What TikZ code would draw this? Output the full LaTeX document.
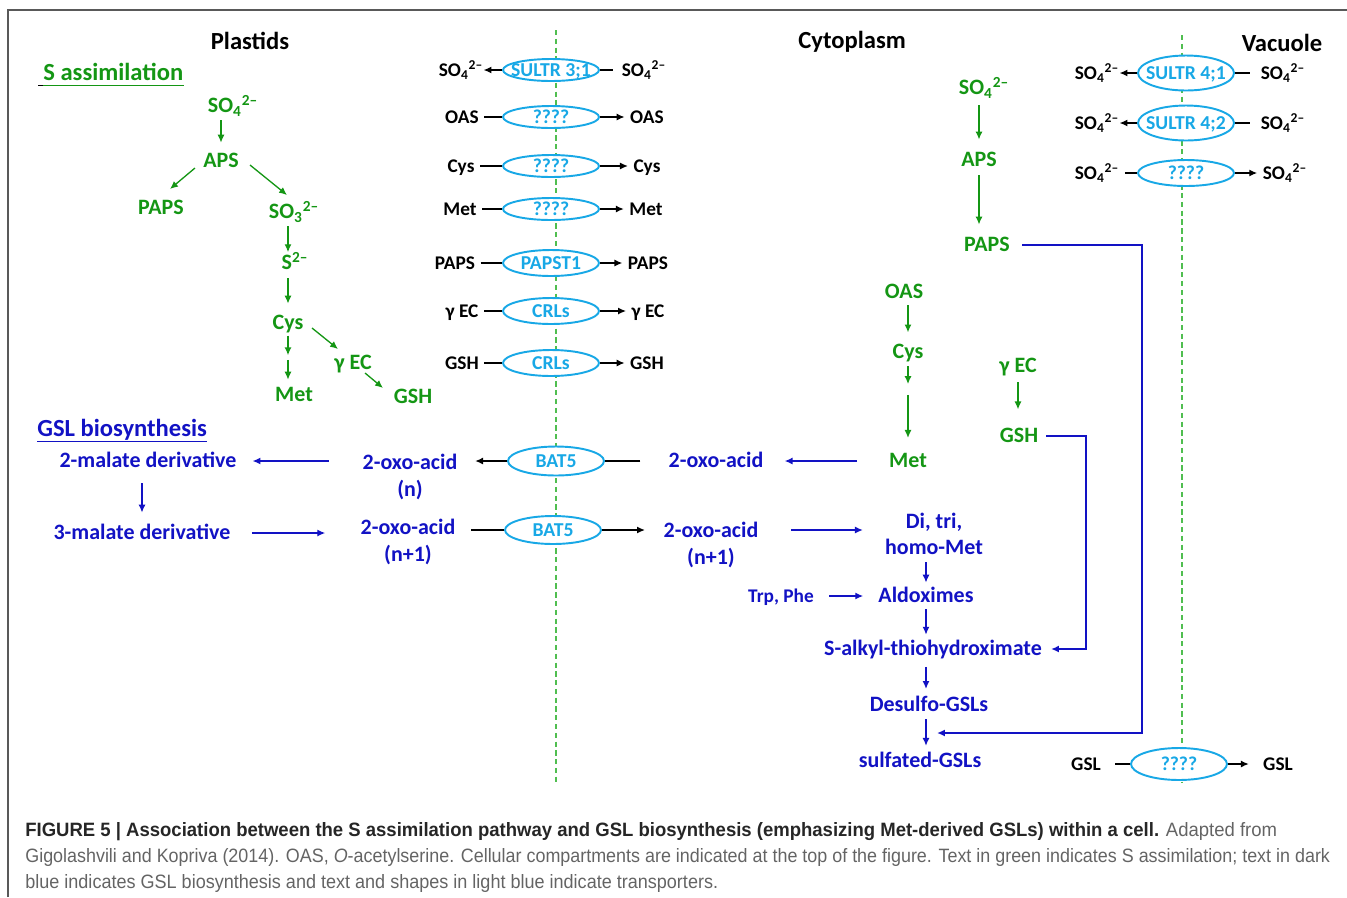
\documentclass[tikz,border=0pt]{standalone}
\usepackage{fontspec}
\setmainfont{Carlito}
\newfontfamily\capfont{Liberation Sans}
\usetikzlibrary{arrows.meta,shapes.geometric}
\definecolor{sgreen}{RGB}{20,150,20}
\definecolor{gslblue}{RGB}{18,18,196}
\definecolor{tblue}{RGB}{24,168,230}
\definecolor{dashgreen}{RGB}{80,190,80}
\definecolor{capgray}{RGB}{100,100,100}
\newcommand{\sulf}{SO\textsubscript{4}\textsuperscript{2–}}
\newcommand{\tname}[1]{\makebox[0pt]{#1}}

\begin{document}
\begin{tikzpicture}[x=0.02cm,y=-0.02cm,
  lbl/.style={inner sep=2pt,font=\bfseries\fontsize{12.5}{15}\selectfont,text height=7.9pt,text depth=0pt},
  g/.style={lbl,text=sgreen},
  b/.style={lbl,text=gslblue},
  two/.style={text height=,text depth=,align=center},
  blk/.style={inner sep=3pt,font=\bfseries\fontsize{11}{13}\selectfont,text height=7pt,text depth=0pt},
  hdr/.style={inner sep=0pt,font=\bfseries\fontsize{14}{16}\selectfont,text height=8.9pt,text depth=0pt},
  trans/.style={ellipse,draw=tblue,fill=white,line width=1.1pt,text=tblue,inner sep=0pt,
    font=\bfseries\fontsize{11.2}{13}\selectfont,text height=7pt,text depth=0pt,
    minimum width=1.92cm,minimum height=0.44cm},
  tip/.style={-{Latex[length=4.5pt,width=4pt]}},
  garr/.style={tip,sgreen,line width=0.75pt,shorten <=2pt,shorten >=3pt},
  barr/.style={tip,gslblue,line width=0.75pt,shorten <=2pt,shorten >=3pt},
  karr/.style={tip,black,line width=0.75pt},
  kline/.style={black,line width=0.75pt},
  divider/.style={dashgreen,line width=0.6pt,dash pattern=on 3pt off 2pt},
  uline/.style={line width=0.8pt},
  capl/.style={inner sep=0pt,font=\capfont\fontsize{11}{13}\selectfont,text=black!85}]
\useasboundingbox (0,0) rectangle (1347,897);

\draw[black!65,line width=0.8pt] (8,897) -- (8,10) -- (1347,10);
\draw[divider] (556,30) -- (556,782);
\draw[divider] (1182,35) -- (1182,782);

\node[hdr] (plastids) at (250,42) {Plastids};
\node[hdr] (cytoplasm) at (852,41) {Cytoplasm};
\node[hdr] (vacuole) at (1282,44) {Vacuole};

\node[hdr,text=sgreen,anchor=west] (sassim) at (43,73) {S assimilation};
\draw[uline,sgreen] ([yshift=-2.3pt]sassim.south west) -- ([yshift=-2.3pt]sassim.south east);
\draw[uline,black] ([xshift=-2.8pt,yshift=-2.3pt]sassim.south west) -- ([yshift=-2.3pt]sassim.south west);
\node[hdr,text=gslblue,anchor=west] (gslbio) at (37,429) {GSL biosynthesis};
\draw[uline,gslblue] ([yshift=-2.3pt]gslbio.south west) -- ([yshift=-2.3pt]gslbio.south east);

% plastid S assimilation
\node[g] (so4a) at (233,106) {\sulf};
\node[g] (apsa) at (221,161) {APS};
\node[g] (papsa) at (161,208) {PAPS};
\node[g] (so3a) at (294,212) {SO\textsubscript{3}\textsuperscript{2–}};
\node[g] (s2a) at (295,263) {S\textsuperscript{2–}};
\node[g] (cysa) at (288,323) {Cys};
\node[g] (meta) at (294,395) {Met};
\node[g] (geca) at (353,363) {γ EC};
\node[g] (gsha) at (413,397) {GSH};
\coordinate (cysmeta) at (288,357);
\draw[garr,shorten >=4.3pt] (so4a.south -| apsa) -- (apsa.north);
\draw[garr,shorten <=0pt,shorten >=0pt] ([shift={(-26,7)}]apsa.center) -- ([shift={(9,-19)}]papsa.center);
\draw[garr,shorten <=0pt,shorten >=0pt] ([shift={(29,4)}]apsa.center) -- ([shift={(-7,-17)}]so3a.center);
\draw[garr,shorten >=0pt] (so3a.south -| cysa) -- (s2a.north -| cysa);
\draw[garr,shorten <=2.6pt,shorten >=4.9pt] (s2a.south -| cysa) -- (cysa.north);
\draw[garr,shorten <=1pt,shorten >=1pt] (cysa.south) -- (cysmeta);
\draw[garr,shorten <=1.7pt,shorten >=2.6pt] (cysmeta) -- (meta.north -| cysmeta);
\draw[garr,shorten <=0pt,shorten >=0pt] ([shift={(24,5)}]cysa.center) -- ([shift={(-15,-14)}]geca.center);
\draw[garr,shorten <=0pt,shorten >=0pt] ([shift={(12,10)}]geca.center) -- ([shift={(-30,-9)}]gsha.center);

% plastid envelope transporters
\node[trans] (t1) at (551,70) {\tname{SULTR 3;1}};
\node[trans] (t2) at (551,117) {\tname{????}};
\node[trans] (t3) at (551,166) {\tname{????}};
\node[trans] (t4) at (551,209) {\tname{????}};
\node[trans,minimum height=0.52cm] (t5) at (551,263) {\tname{PAPST1}};
\node[trans,minimum height=0.52cm] (t6) at (551,311) {\tname{CRLs}};
\node[trans,minimum height=0.52cm] (t7) at (551,363) {\tname{CRLs}};
\node[blk] (so4l) at (461,70) {\sulf};
\node[blk] (so4r) at (644,70) {\sulf};
\node[blk] (oasl) at (462,117) {OAS};
\node[blk] (oasr) at (647,117) {OAS};
\node[blk] (cysl) at (461,166) {Cys};
\node[blk] (cysr) at (647,166) {Cys};
\node[blk] (metl) at (460,209) {Met};
\node[blk] (metr) at (646,209) {Met};
\node[blk] (papsl) at (455,263) {PAPS};
\node[blk] (papsr) at (648,263) {PAPS};
\node[blk] (gecl) at (462,311) {γ EC};
\node[blk] (gecr) at (648,311) {γ EC};
\node[blk] (gshl) at (462,363) {GSH};
\node[blk] (gshr) at (647,363) {GSH};
\draw[karr,shorten >=-3pt] (t1) -- (so4l);
\draw[kline,shorten <=2pt] (so4r) -- (t1);
\draw[kline] (oasl) -- (t2);
\draw[karr] (t2) -- (oasr);
\draw[kline] (cysl) -- (t3);
\draw[karr] (t3) -- (cysr);
\draw[kline] (metl) -- (t4);
\draw[karr] (t4) -- (metr);
\draw[kline] (papsl) -- (t5);
\draw[karr] (t5) -- (papsr);
\draw[kline] (gecl) -- (t6);
\draw[karr] (t6) -- (gecr);
\draw[kline] (gshl) -- (t7);
\draw[karr] (t7) -- (gshr);

% GSL chain elongation
\node[b] (malate2) at (148,461) {2-malate derivative};
\node[b] (malate3) at (142,533) {3-malate derivative};
\node[b,two] (oxol) at (410,477) {2-oxo-acid\\(n)};
\node[b,two] (oxol2) at (408,542) {2-oxo-acid\\(n+1)};
\node[trans,minimum height=0.58cm] (bat1) at (556,461) {\tname{BAT5}};
\node[trans,minimum height=0.56cm] (bat2) at (553,530) {\tname{BAT5}};
\node[b] (oxor) at (716,461) {2-oxo-acid};
\node[b,two] (oxor2) at (711,545) {2-oxo-acid\\(n+1)};
\draw[barr,shorten <=17pt,shorten >=7pt] (malate2 -| oxol.west) -- (malate2.east);
\draw[barr,shorten <=6.6pt,shorten >=5.5pt] (malate2.south -| malate3) -- (malate3.north);
\draw[barr,shorten <=10pt,shorten >=18pt] (malate3.east) -- (malate3.east -| oxol2.west);
\draw[karr,shorten >=8pt] (bat1) -- (oxol.east |- bat1);
\draw[kline,shorten <=14pt] (oxor) -- (bat1);
\draw[kline,shorten <=7pt] (oxol2.east |- bat2) -- (bat2);
\draw[karr,shorten >=8.5pt] (bat2) -- (oxor2.west |- bat2);

% cytoplasm
\node[g] (so4c) at (984,88) {\sulf};
\node[g] (apsc) at (979,160) {APS};
\node[g] (papsc) at (987,245) {PAPS};
\node[g] (oasc) at (904,292) {OAS};
\node[g] (cysc) at (908,352) {Cys};
\node[g] (metc) at (908,461) {Met};
\node[g] (gecc) at (1018,366) {γ EC};
\node[g] (gshc) at (1019,436) {GSH};
\coordinate (cysmetc) at (908,390);
\draw[garr,shorten <=3.7pt,shorten >=5.5pt] (so4c.south -| apsc) -- (apsc.north);
\draw[garr,shorten <=2.6pt,shorten >=5.5pt] (apsc.south) -- (papsc.north -| apsc);
\draw[garr,shorten <=1.5pt,shorten >=5pt] (oasc.south -| cysc) -- (cysc.north);
\draw[garr,shorten <=2pt,shorten >=3.4pt] (cysc.south) -- (cysmetc);
\draw[garr,shorten <=2.8pt,shorten >=7pt] (cysmetc) -- (metc.north);
\draw[garr,shorten <=3.2pt,shorten >=9pt] (gecc.south) -- (gecc.south |- gshc.north);

\node[b,two] (dimet) at (934,534) {Di, tri,\\homo-Met};
\node[b,font=\bfseries\fontsize{11}{13}\selectfont,text height=7pt] (trp) at (781,596) {Trp, Phe};
\node[b] (aldox) at (926,596) {Aldoximes};
\node[b] (salkyl) at (933,649) {S-alkyl-thiohydroximate};
\node[b] (desulfo) at (929,705) {Desulfo-GSLs};
\node[b] (sulfated) at (920,761) {sulfated-GSLs};
\coordinate (papsbend) at (1142,733);
\coordinate (papsin) at (937,733);
\coordinate (gshbend) at (1086,649);
\draw[barr,shorten <=16pt,shorten >=10pt] (metc) -- (oxor);
\draw[barr,shorten <=16.5pt,shorten >=10.5pt] (oxor2.east |- bat2) -- (dimet.west |- bat2);
\draw[barr,shorten >=1.5pt] (dimet.south -| aldox) -- (aldox.north);
\draw[barr,shorten <=6.5pt,shorten >=6.5pt] (trp) -- (aldox);
\draw[barr,shorten <=1.5pt,shorten >=2pt] (aldox.south) -- (salkyl.north -| aldox);
\draw[barr,shorten <=4pt,shorten >=3pt] (salkyl.south -| aldox) -- (desulfo.north -| aldox);
\draw[barr,shorten <=2pt,shorten >=2.5pt] (desulfo.south -| aldox) -- (sulfated.north -| aldox);
\draw[barr,line width=1.3pt,shorten <=5pt,shorten >=0pt] (papsc.east) -| (papsbend) -- (papsin);
\draw[barr,line width=1pt,shorten <=2.5pt,shorten >=3.1pt] (gshc.east) -| (gshbend) -- (salkyl.east);

% tonoplast transporters
\node[trans,minimum height=0.7cm] (v1) at (1186,73) {\tname{SULTR 4;1}};
\node[trans,minimum height=0.7cm] (v2) at (1186,123) {\tname{SULTR 4;2}};
\node[trans,minimum height=0.52cm] (v3) at (1186,173) {\tname{????}};
\node[trans,minimum height=0.64cm] (v4) at (1179,764) {\tname{????}};
\node[blk] (vso4l1) at (1097,73) {\sulf};
\node[blk] (vso4r1) at (1283,73) {\sulf};
\node[blk] (vso4l2) at (1097,123) {\sulf};
\node[blk] (vso4r2) at (1283,123) {\sulf};
\node[blk] (vso4l3) at (1097,173) {\sulf};
\node[blk] (vso4r3) at (1285,173) {\sulf};
\node[blk] (gsll) at (1086,764) {GSL};
\node[blk] (gslr) at (1278,764) {GSL};
\draw[karr,shorten >=-3pt] (v1) -- (vso4l1);
\draw[kline,shorten <=3pt] (vso4r1) -- (v1);
\draw[karr,shorten >=-3pt] (v2) -- (vso4l2);
\draw[kline,shorten <=3pt] (vso4r2) -- (v2);
\draw[kline] (vso4l3) -- (v3);
\draw[karr] (v3) -- (vso4r3);
\draw[kline,shorten <=5pt] (gsll) -- (v4);
\draw[karr,shorten >=5pt] (v4) -- (gslr);

% caption
\node[capl,anchor=base west] (cap1) at (25,836) {\resizebox{25.04cm}{\height}{\textbf{FIGURE 5 | Association between the S assimilation pathway and GSL biosynthesis (emphasizing Met-derived GSLs) within a cell.} \textcolor{capgray}{Adapted from}}};
\node[capl,anchor=base west,text=capgray] (cap2) at (25,862) {\resizebox{26.1cm}{\height}{Gigolashvili and Kopriva (2014). OAS, \textit{O}-acetylserine. Cellular compartments are indicated at the top of the figure. Text in green indicates S assimilation; text in dark}};
\node[capl,anchor=base west,text=capgray] (cap3) at (25,888) {\resizebox{13.86cm}{\height}{blue indicates GSL biosynthesis and text and shapes in light blue indicate transporters.}};
\end{tikzpicture}
\end{document}
